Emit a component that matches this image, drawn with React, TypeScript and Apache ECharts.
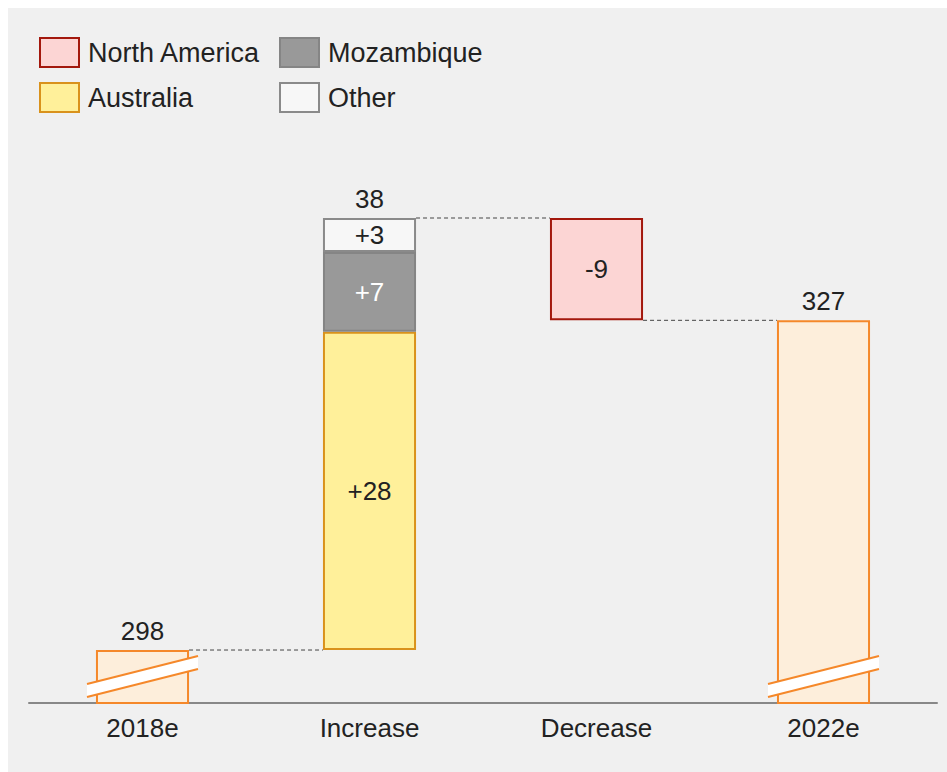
import React, { useEffect, useRef } from "react";
import * as echarts from "echarts";

const categories = ["2018e", "Increase", "Decrease", "2022e"];
const totals: (number | string)[] = [298, "-", "-", 327];
const baseValues: (number | string)[] = ["-", 298, 327, "-"];
const australia: (number | string)[] = ["-", 28, "-", "-"];
const mozambique: (number | string)[] = ["-", 7, "-", "-"];
const other: (number | string)[] = ["-", 3, "-", "-"];
const northAmerica: (number | string)[] = ["-", "-", 9, "-"];
const segmentLabels: Record<string, string> = {
  Australia: "+28",
  Mozambique: "+7",
  Other: "+3",
  "North America": "-9",
};
const topLabels: [number, number, string][] = [
  [0, 298, "298"],
  [1, 336, "38"],
  [3, 327, "327"],
];
const connectors: [number, number][] = [
  [0, 298],
  [1, 336],
  [2, 327],
];
const breakBars: number[] = [0, 3];

const Y_MIN = 293.34;
const Y_MAX = 340;
const BAR_RATIO = 0.41;
const FONT = "'Liberation Sans', Arial, sans-serif";
const TEXT = "#222222";
const ORANGE = "#f5882a";
const BG = "#f0f0f0";
const FS = 26;

export default function App() {
  const ref = useRef<HTMLDivElement>(null);
  useEffect(() => {
    document.body.style.margin = "8px 0 0 8px";
    document.body.style.overflow = "hidden";
    document.documentElement.style.background =
      `linear-gradient(to right, #ffffff 8px, transparent 8px), linear-gradient(to bottom, #ffffff 8px, ${BG} 8px)`;
    document.documentElement.style.minHeight = "100%";
    const chart = echarts.init(ref.current!, undefined, { renderer: "svg" });
    const segLabel = (name: string, color: string) => ({
      show: true,
      position: "inside",
      formatter: () => segmentLabels[name],
      fontSize: FS,
      fontFamily: FONT,
      color,
    });
    const legendBase = {
      orient: "vertical",
      top: 29,
      padding: 0,
      icon: "rect",
      itemWidth: 39,
      itemHeight: 29,
      itemGap: 14,
      textStyle: { fontSize: 27, color: TEXT, fontFamily: FONT, padding: [0, 0, 0, 4] },
    };
    chart.setOption({
      animation: false,
      backgroundColor: BG,
      textStyle: { fontFamily: FONT },
      legend: [
        { ...legendBase, data: ["North America", "Australia"], left: 31 },
        { ...legendBase, data: ["Mozambique", "Other"], left: 271 },
      ],
      grid: { left: 21, right: 10, top: 210 - (Y_MAX - 336) * 11.368, bottom: 69 },
      xAxis: {
        type: "category",
        data: categories,
        axisTick: { show: false },
        axisLine: { lineStyle: { color: "#888888", width: 2 } },
        axisLabel: { color: TEXT, fontSize: FS, fontFamily: FONT, margin: 12 },
      },
      yAxis: {
        type: "value",
        min: Y_MIN,
        max: Y_MAX,
        show: false,
        splitLine: { show: false },
      },
      series: [
        {
          name: "total",
          type: "bar",
          stack: "w",
          barWidth: "41%",
          data: totals,
          itemStyle: { color: "#fdeedb", borderColor: ORANGE, borderWidth: 2 },
        },
        {
          name: "base",
          type: "bar",
          stack: "w",
          data: baseValues,
          itemStyle: { color: "transparent" },
          silent: true,
        },
        {
          name: "Australia",
          type: "bar",
          stack: "w",
          data: australia,
          itemStyle: { color: "#fff09a", borderColor: "#d9921c", borderWidth: 2 },
          label: segLabel("Australia", TEXT),
        },
        {
          name: "Mozambique",
          type: "bar",
          stack: "w",
          data: mozambique,
          itemStyle: { color: "#999999", borderColor: "#858585", borderWidth: 2 },
          label: segLabel("Mozambique", "#ffffff"),
        },
        {
          name: "Other",
          type: "bar",
          stack: "w",
          data: other,
          itemStyle: { color: "#f7f7f7", borderColor: "#8a8a8a", borderWidth: 2 },
          label: segLabel("Other", TEXT),
        },
        {
          name: "North America",
          type: "bar",
          stack: "w",
          data: northAmerica,
          itemStyle: { color: "#fcd5d4", borderColor: "#a3180d", borderWidth: 2 },
          label: segLabel("North America", TEXT),
        },
        {
          name: "connectors",
          type: "custom",
          data: connectors,
          z: 5,
          silent: true,
          renderItem: (params: any, api: any) => {
            const p = api.coord([api.value(0), api.value(1)]);
            const bw = api.size([1, 0])[0];
            const half = (bw * BAR_RATIO) / 2;
            return {
              type: "line",
              shape: { x1: p[0] + half, y1: p[1], x2: p[0] + bw - half, y2: p[1] },
              style: { stroke: "#444444", lineWidth: 1, lineDash: [4, 3] },
            };
          },
        },
        {
          name: "breaks",
          type: "custom",
          data: breakBars.map((i) => [i]),
          z: 10,
          silent: true,
          renderItem: (params: any, api: any) => {
            const p = api.coord([api.value(0), Y_MIN]);
            const cx = p[0];
            const base = p[1];
            const L = 55.5;
            const s = 0.252;
            const up = base - 33;
            const lo = base - 20;
            return {
              type: "group",
              children: [
                {
                  type: "polygon",
                  shape: {
                    points: [
                      [cx - L, up + s * L],
                      [cx + L, up - s * L],
                      [cx + L, lo - s * L],
                      [cx - L, lo + s * L],
                    ],
                  },
                  style: { fill: "#ffffff" },
                },
                {
                  type: "line",
                  shape: { x1: cx - L, y1: up + s * L, x2: cx + L, y2: up - s * L },
                  style: { stroke: ORANGE, lineWidth: 2 },
                },
                {
                  type: "line",
                  shape: { x1: cx - L, y1: lo + s * L, x2: cx + L, y2: lo - s * L },
                  style: { stroke: ORANGE, lineWidth: 2 },
                },
              ],
            };
          },
        },
        {
          name: "topLabels",
          type: "custom",
          data: topLabels,
          z: 11,
          silent: true,
          renderItem: (params: any, api: any) => {
            const p = api.coord([api.value(0), api.value(1)]);
            return {
              type: "text",
              x: p[0],
              y: p[1] - 6,
              style: {
                text: topLabels[params.dataIndex][2],
                fill: TEXT,
                fontSize: FS,
                fontFamily: FONT,
                align: "center",
                verticalAlign: "bottom",
              },
            };
          },
        },
      ],
    });
    return () => chart.dispose();
  }, []);
  return <div ref={ref} style={{ width: 939, height: 764 }} />;
}
